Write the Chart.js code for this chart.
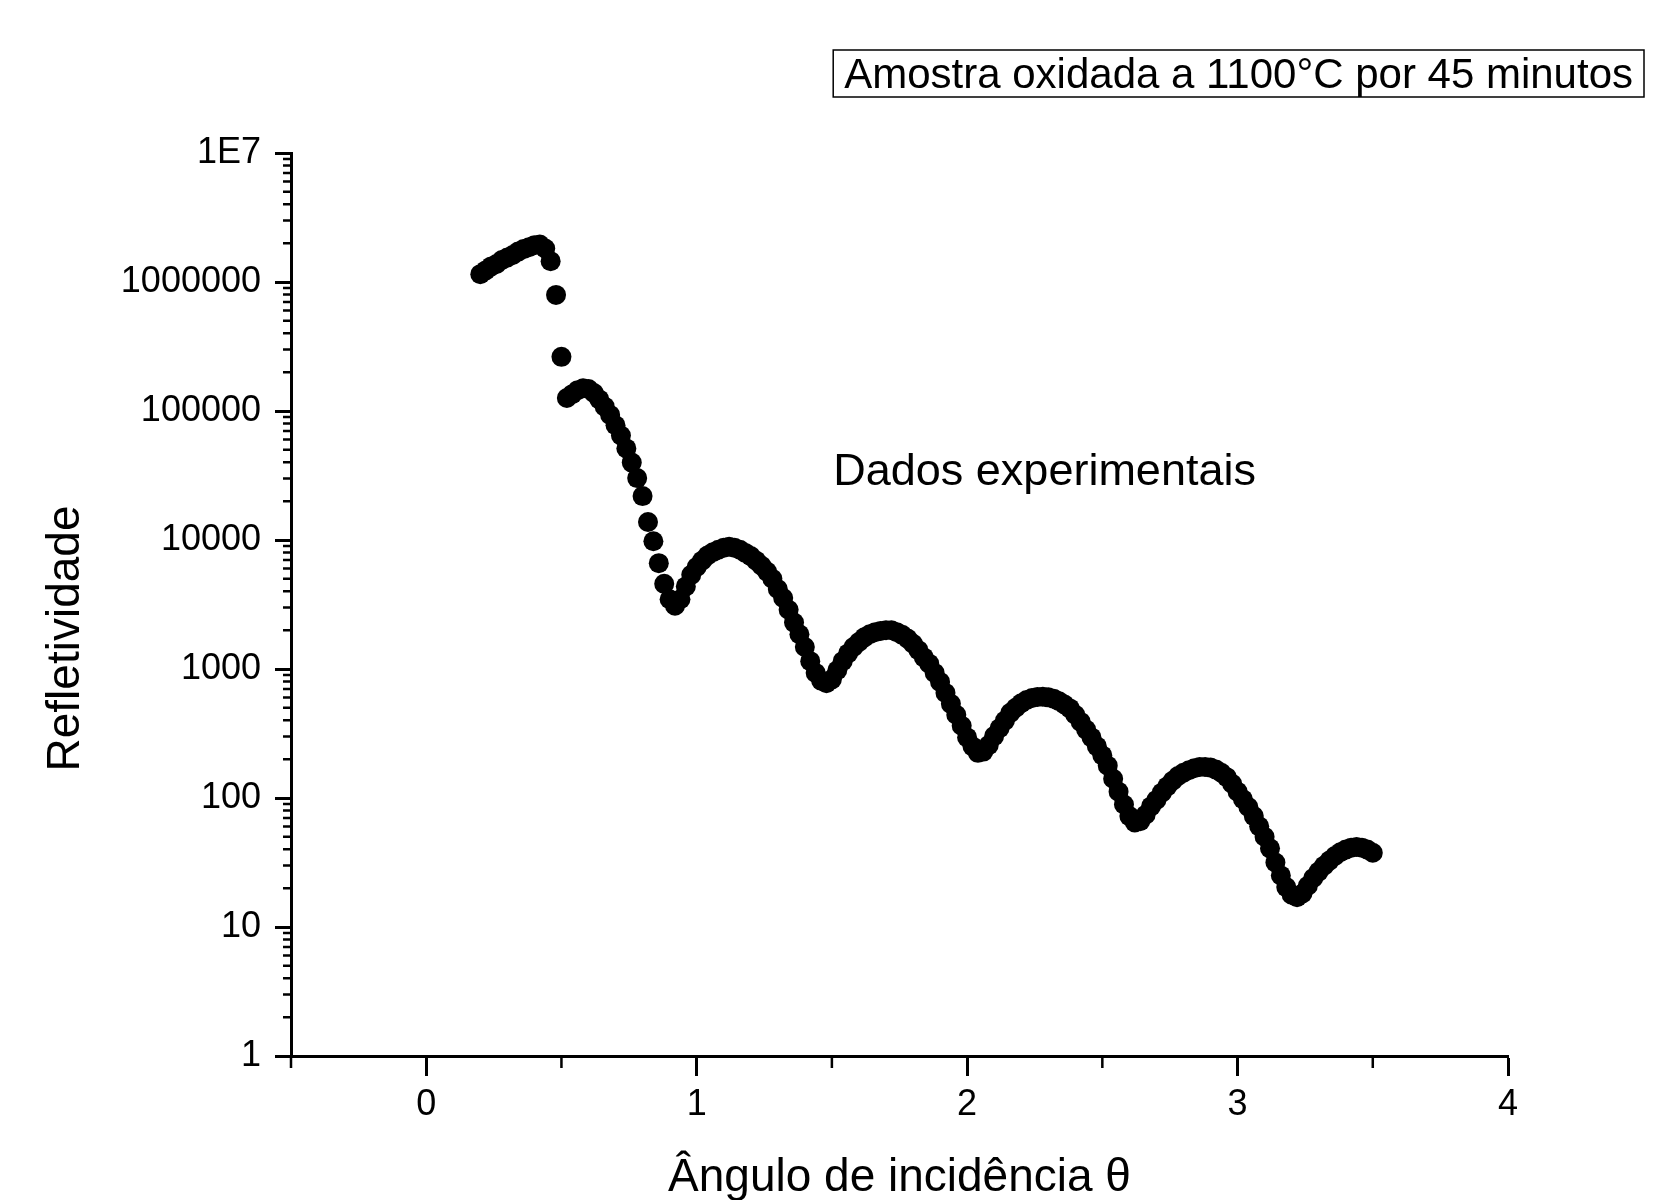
<!DOCTYPE html>
<html><head><meta charset="utf-8">
<script src="https://cdn.jsdelivr.net/npm/chart.js@4.4.1/dist/chart.umd.min.js"></script>
<style>html,body{margin:0;padding:0;background:#fff;}#wrap{width:1677px;height:1200px;position:relative;}canvas{display:block;}</style>
</head><body><div id="wrap"><canvas id="c" width="1677" height="1200"></canvas></div>
<script>
// ---- data ----
const angles = [
 0.20,0.22,0.24,0.26,0.28,0.30,0.32,0.34,0.36,0.38,
 0.40,0.42,0.44,0.46,0.48,0.50,0.52,0.54,0.56,0.58,
 0.60,0.62,0.64,0.66,0.68,0.70,0.72,0.74,0.76,0.78,
 0.80,0.82,0.84,0.86,0.88,0.90,0.92,0.94,0.96,0.98,
 1.00,1.02,1.04,1.06,1.08,1.10,1.12,1.14,1.16,1.18,
 1.20,1.22,1.24,1.26,1.28,1.30,1.32,1.34,1.36,1.38,
 1.40,1.42,1.44,1.46,1.48,1.50,1.52,1.54,1.56,1.58,
 1.60,1.62,1.64,1.66,1.68,1.70,1.72,1.74,1.76,1.78,
 1.80,1.82,1.84,1.86,1.88,1.90,1.92,1.94,1.96,1.98,
 2.00,2.02,2.04,2.06,2.08,2.10,2.12,2.14,2.16,2.18,
 2.20,2.22,2.24,2.26,2.28,2.30,2.32,2.34,2.36,2.38,
 2.40,2.42,2.44,2.46,2.48,2.50,2.52,2.54,2.56,2.58,
 2.60,2.62,2.64,2.66,2.68,2.70,2.72,2.74,2.76,2.78,
 2.80,2.82,2.84,2.86,2.88,2.90,2.92,2.94,2.96,2.98,
 3.00,3.02,3.04,3.06,3.08,3.10,3.12,3.14,3.16,3.18,
 3.20,3.22,3.24,3.26,3.28,3.30,3.32,3.34,3.36,3.38,
 3.40,3.42,3.44,3.46,3.48,3.50
];
const reflectivity = [
 1150000,1230000,1320000,1380000,1480000,1550000,1620000,1720000,1800000,1860000,
 1930000,1950000,1820000,1450000,794000,263000,126000,135000,145000,150000,
 148000,138000,123000,108000,93300,77600,64600,51300,39800,30200,
 21900,13800,9770,6610,4570,3470,3090,3470,4370,5370,
 6170,6920,7590,8040,8410,8710,8850,8710,8410,7940,
 7500,6920,6310,5690,5010,4170,3550,2880,2290,1860,
 1480,1150,933,813,776,832,977,1150,1320,1480,
 1620,1760,1860,1930,1970,2000,2000,1930,1840,1720,
 1570,1400,1230,1100,933,794,653,537,442,363,
 295,251,224,229,257,302,347,398,457,501,
 543,575,596,607,610,603,589,562,531,495,
 442,389,339,295,251,214,178,141,112,89.1,
 72.4,64.6,66.1,74.1,86.1,96.6,110,123,136,148,
 157,164,170,174,174,172,166,157,145,129,
 112,97.7,85.1,72.4,60.3,50.1,40.7,31.6,25.1,20.4,
 17.8,17.0,18.2,20.9,24.0,26.9,29.9,32.7,35.5,38.0,
 39.8,41.2,41.7,41.2,39.8,37.6
];
const xMajorTicks = [0, 1, 2, 3, 4];
const xTickLabels = ['0', '1', '2', '3', '4'];
const xMinorTicks = [-0.5, 0.5, 1.5, 2.5, 3.5];
const yMajorTicks = [1, 10, 100, 1000, 10000, 100000, 1000000, 10000000];
const yTickLabels = ['1', '10', '100', '1000', '10000', '100000', '1000000', '1E7'];
const yMinorMultipliers = [2, 3, 4, 5, 6, 7, 8, 9];
const xTitle = 'Ângulo de incidência θ';
const yTitle = 'Refletividade';
const sampleLabel = 'Amostra oxidada a 1100°C por 45 minutos';
const seriesLabel = 'Dados experimentais';
const seriesLabelAnchor = {x: 1.505, y: 26600};

// ---- chart ----
const FONT = "'Liberation Sans', Arial, sans-serif";
const yMinorTicks = [];
yMajorTicks.slice(0, -1).forEach(m => yMinorMultipliers.forEach(d => yMinorTicks.push(m * d)));

const extrasPlugin = {
  id: 'extras',
  afterDraw(chart) {
    const {ctx, chartArea: a, scales: {x, y}} = chart;
    ctx.save();
    // minor ticks
    ctx.strokeStyle = '#000';
    ctx.lineWidth = 2.5;
    ctx.beginPath();
    yMinorTicks.forEach(v => { const p = y.getPixelForValue(v); ctx.moveTo(a.left - 8, p); ctx.lineTo(a.left, p); });
    xMinorTicks.forEach(v => { const p = x.getPixelForValue(v); ctx.moveTo(p, a.bottom); ctx.lineTo(p, a.bottom + 12); });
    ctx.stroke();
    // y axis title
    const yt = y.options.title;
    ctx.fillStyle = '#000';
    ctx.font = `46px ${FONT}`;
    ctx.textAlign = 'center';
    ctx.textBaseline = 'middle';
    ctx.save();
    ctx.translate(66, (a.top + a.bottom) / 2 + 34);
    ctx.rotate(-Math.PI / 2);
    ctx.fillText(yt.text, 0, 0);
    ctx.restore();
    // series annotation
    ctx.textAlign = 'left';
    ctx.textBaseline = 'alphabetic';
    ctx.font = `45px ${FONT}`;
    ctx.fillText(seriesLabel, x.getPixelForValue(seriesLabelAnchor.x), y.getPixelForValue(seriesLabelAnchor.y));
    // sample box
    ctx.font = `42px ${FONT}`;
    const w = ctx.measureText(sampleLabel).width;
    const right = chart.width - 33, top = 50, h = 47, pad = 11;
    ctx.lineWidth = 1.5;
    ctx.strokeRect(right - w - 2 * pad, top, w + 2 * pad, h);
    ctx.fillText(sampleLabel, right - w - pad, top + 38);
    ctx.restore();
  }
};

new Chart(document.getElementById('c'), {
  type: 'scatter',
  data: {
    datasets: [{
      label: seriesLabel,
      data: angles.map((a, i) => ({x: a, y: reflectivity[i]})),
      pointRadius: 10,
      pointHoverRadius: 10,
      pointBackgroundColor: '#000',
      pointBorderWidth: 0,
      borderColor: '#000',
      showLine: false
    }]
  },
  options: {
    responsive: false,
    animation: false,
    events: [],
    layout: {padding: {left: 0, right: 169, top: 153, bottom: 0}},
    plugins: {legend: {display: false}, tooltip: {enabled: false}, title: {display: false}},
    scales: {
      x: {
        type: 'linear', position: 'bottom', min: -0.5, max: 4,
        afterBuildTicks: s => { s.ticks = xMajorTicks.map(v => ({value: v})); },
        afterFit: s => { s.height = 144; },
        ticks: {
          autoSkip: false, maxRotation: 0, minRotation: 0, padding: 7, color: '#000',
          font: {family: FONT, size: 36},
          callback: v => { const i = xMajorTicks.indexOf(v); return i >= 0 ? xTickLabels[i] : ''; }
        },
        grid: {display: true, drawOnChartArea: false, drawTicks: true, tickLength: 20, tickWidth: 3, tickColor: '#000'},
        border: {display: true, color: '#000', width: 3},
        title: {display: true, text: xTitle, color: '#000', font: {family: FONT, size: 46}, padding: {top: 0, bottom: -6}}
      },
      y: {
        type: 'logarithmic', position: 'left', min: 1, max: 10000000,
        afterBuildTicks: s => { s.ticks = yMajorTicks.map(v => ({value: v})); },
        afterFit: s => { s.width = 291; },
        ticks: {
          autoSkip: false, padding: 14, color: '#000',
          font: {family: FONT, size: 36},
          callback: v => { const i = yMajorTicks.indexOf(v); return i >= 0 ? yTickLabels[i] : ''; }
        },
        grid: {display: true, drawOnChartArea: false, drawTicks: true, tickLength: 16, tickWidth: 3, tickColor: '#000'},
        border: {display: true, color: '#000', width: 3},
        title: {display: false, text: yTitle}
      }
    }
  },
  plugins: [extrasPlugin]
});
</script></body></html>
